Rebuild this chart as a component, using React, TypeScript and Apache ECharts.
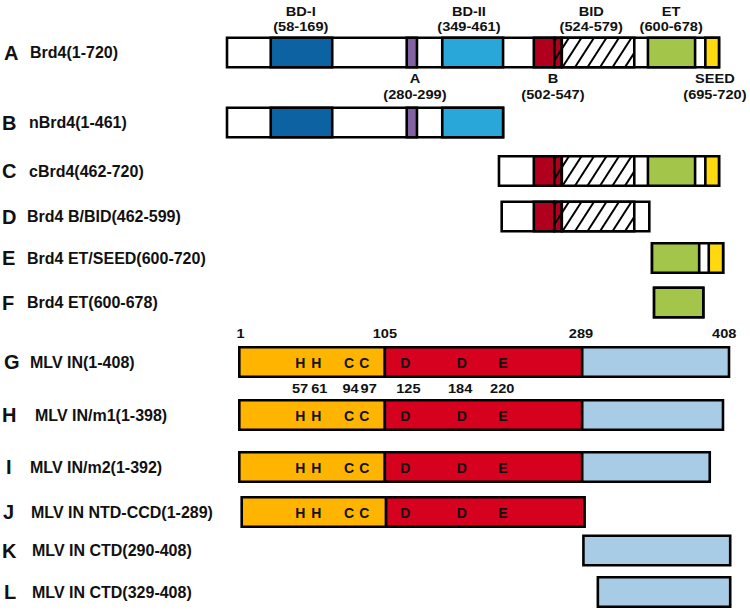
import React, { useEffect, useRef } from 'react';
import * as echarts from 'echarts';

// ---------- data ----------
const brd4Letters = ['A', 'B', 'C', 'D', 'E', 'F'];
const brd4Names = ['Brd4(1-720)', 'nBrd4(1-461)', 'cBrd4(462-720)', 'Brd4 B/BID(462-599)', 'Brd4 ET/SEED(600-720)', 'Brd4 ET(600-678)'];
const mlvLetters = ['G', 'H', 'I', 'J', 'K', 'L'];
const mlvNames = ['MLV IN(1-408)', 'MLV IN/m1(1-398)', 'MLV IN/m2(1-392)', 'MLV IN NTD-CCD(1-289)', 'MLV IN CTD(290-408)', 'MLV IN CTD(329-408)'];

// Brd4 constructs, drawn extents on the schematic residue scale: [row, start, end]
const brd4Constructs: [number, number, number][] = [
  [0, 0, 720], [1, 0, 404], [2, 398, 720], [3, 402, 618], [4, 622, 726], [5, 625, 697],
];
// Brd4 domains: [row, start, end, kind]
const brd4Domains: [number, number, number, string][] = [
  [0, 64, 154, 'BD-I'], [0, 263, 278, 'A'], [0, 315, 404, 'BD-II'], [0, 449, 479, 'B'], [0, 479, 490, 'B/BID'], [0, 490, 596, 'BID'], [0, 616, 685, 'ET'], [0, 700, 720, 'SEED'],
  [1, 64, 154, 'BD-I'], [1, 263, 278, 'A'], [1, 315, 404, 'BD-II'],
  [2, 449, 479, 'B'], [2, 479, 490, 'B/BID'], [2, 490, 596, 'BID'], [2, 616, 685, 'ET'], [2, 700, 720, 'SEED'],
  [3, 449, 479, 'B'], [3, 479, 490, 'B/BID'], [3, 490, 596, 'BID'],
  [4, 622, 691, 'ET'], [4, 705, 726, 'SEED'],
  [5, 625, 697, 'ET'],
];
// Brd4 annotations on row A: [name, range, position, side]
const brd4Notes: [string, string, number, 'top' | 'bottom'][] = [
  ['BD-I', '(58-169)', 108, 'top'], ['BD-II', '(349-461)', 354, 'top'], ['BID', '(524-579)', 533, 'top'], ['ET', '(600-678)', 650, 'top'],
  ['A', '(280-299)', 275, 'bottom'], ['B', '(502-547)', 477, 'bottom'], ['SEED', '(695-720)', 714, 'bottom'],
];

// MLV IN segments: [row, start, end, kind]
const mlvSegments: [number, number, number, string][] = [
  [0, 1, 122, 'NTD'], [0, 122, 286, 'CCD'], [0, 286, 408, 'CTD'],
  [1, 1, 122, 'NTD'], [1, 122, 286, 'CCD'], [1, 286, 403, 'CTD'],
  [2, 1, 122, 'NTD'], [2, 122, 286, 'CCD'], [2, 286, 392, 'CTD'],
  [3, 3, 123, 'NTD'], [3, 123, 288, 'CCD'],
  [4, 287, 409, 'CTD'],
  [5, 299, 409, 'CTD'],
];
// catalytic residues: [letter, residue number, letter position, number position]
const mlvResidues: [string, string, number, number][] = [
  ['H', '57', 51.7, 51.5], ['H', '61', 65, 67.5], ['C', '94', 92.3, 93.5], ['C', '97', 104.8, 108.5],
  ['D', '125', 139, 141.5], ['D', '184', 186, 184.5], ['E', '220', 220, 219.5],
];
const mlvResidueRows = [0, 1, 2, 3];
// boundary tick labels above G: [label, position]
const mlvBoundaries: [string, number][] = [['1', 2], ['105', 122], ['289', 285], ['408', 404]];

// ---------- layout & style ----------
const BRD4_Y = [52.5, 122.5, 171, 216.5, 258, 302.5];
const MLV_Y = [362, 415, 467, 512, 550.5, 592];
const LETTER_X = [4, 2, 2, 2, 2, 2, 4, 2, 6, 3, 2, 4];
const NAME_X = [30, 29, 29, 27, 27, 27, 30, 35, 30, 31, 32, 32];
const HALF = 14.75;
const FF = '"Liberation Sans", Arial, sans-serif';
const LETTER_FONT = `bold 20px ${FF}`;
const NAME_FONT = `bold 16px ${FF}`;
const SMALL_FONT = `bold 13.5px ${FF}`;
const INNER_FONT = `bold 14px ${FF}`;
const SMALL_SCALE_X = 1.08;
const TXT = '#111';
const FILLS: Record<string, string> = {
  white: '#ffffff',
  'BD-I': '#0d63a1', A: '#8262a3', 'BD-II': '#2aa7d9', B: '#b1001d', 'B/BID': '#b1001d', BID: '#ffffff', ET: '#a3c64a', SEED: '#ffd90f',
  NTD: '#ffb400', CCD: '#d6001f', CTD: '#a8cbe6',
};
const HATCHED: Record<string, boolean> = { 'B/BID': true, BID: true };

function hatchLines(x0: number, x1: number, yTop: number, yBot: number) {
  const D = 19;
  const S = 12.5;
  const out: any[] = [];
  for (let b = Math.floor((x0 - D) / S) * S; b < x1; b += S) {
    const tMin = Math.max(0, (x0 - b) / D);
    const tMax = Math.min(1, (x1 - b) / D);
    if (tMax - tMin > 0.03) {
      out.push({
        type: 'line',
        shape: { x1: b + D * tMin, y1: yBot - (yBot - yTop) * tMin, x2: b + D * tMax, y2: yBot - (yBot - yTop) * tMax },
        style: { stroke: '#000', lineWidth: 2 },
      });
    }
  }
  return out;
}

function segRenderer(segs: any[], rowsY: number[], kindOf: (s: any) => string) {
  return (params: any, api: any) => {
    const s = segs[params.dataIndex];
    const cy = rowsY[s[0]];
    const p0 = api.coord([s[1], cy]);
    const p1 = api.coord([s[2], cy]);
    const yTop = p0[1] - HALF;
    const yBot = p0[1] + HALF;
    const kind = kindOf(s);
    const shape = { x: p0[0], y: yTop, width: p1[0] - p0[0], height: 2 * HALF };
    const children: any[] = [{ type: 'rect', shape, style: { fill: FILLS[kind], stroke: 'none' } }];
    if (HATCHED[kind]) children.push(...hatchLines(p0[0], p1[0], yTop, yBot));
    children.push({ type: 'rect', shape, style: { fill: 'none', stroke: '#000', lineWidth: 2.6 } });
    return { type: 'group', children };
  };
}

function txt(text: string, x: number, y: number, font: string, scaleX = 1) {
  return {
    type: 'text', x, y, scaleX,
    style: { text, x: 0, y: 0, font, fill: TXT, textAlign: 'center', textVerticalAlign: 'middle' },
  };
}

export default function App() {
  const ref = useRef<HTMLDivElement>(null);
  useEffect(() => {
    if (!ref.current) return;
    const chart = echarts.init(ref.current, undefined, { renderer: 'svg' });

    const graphic: any[] = [];
    brd4Letters.forEach((l, i) => {
      graphic.push({ type: 'text', x: LETTER_X[i], y: BRD4_Y[i], style: { text: l, font: LETTER_FONT, fill: TXT, textVerticalAlign: 'middle' } });
      graphic.push({ type: 'text', x: NAME_X[i], y: BRD4_Y[i], style: { text: brd4Names[i], font: NAME_FONT, fill: TXT, textVerticalAlign: 'middle' } });
    });
    mlvLetters.forEach((l, i) => {
      graphic.push({ type: 'text', x: LETTER_X[6 + i], y: MLV_Y[i], style: { text: l, font: LETTER_FONT, fill: TXT, textVerticalAlign: 'middle' } });
      graphic.push({ type: 'text', x: NAME_X[6 + i], y: MLV_Y[i], style: { text: mlvNames[i], font: NAME_FONT, fill: TXT, textVerticalAlign: 'middle' } });
    });

    const option: any = {
      animation: false,
      backgroundColor: '#ffffff',
      grid: [
        { left: 227, top: 0, width: 492, height: 612 },
        { left: 239.3, top: 0, width: 489.7, height: 612 },
      ],
      xAxis: [
        { gridIndex: 0, type: 'value', min: 0, max: 720, show: false },
        { gridIndex: 1, type: 'value', min: 1, max: 408, show: false },
      ],
      yAxis: [
        { gridIndex: 0, type: 'value', min: 0, max: 612, inverse: true, show: false },
        { gridIndex: 1, type: 'value', min: 0, max: 612, inverse: true, show: false },
      ],
      graphic,
      series: [
        {
          type: 'custom', xAxisIndex: 0, yAxisIndex: 0, silent: true, clip: false, z: 2,
          data: brd4Constructs.map((c) => [c[1], c[2]]), encode: { x: [0, 1] },
          renderItem: segRenderer(brd4Constructs, BRD4_Y, () => 'white'),
        },
        {
          type: 'custom', xAxisIndex: 0, yAxisIndex: 0, silent: true, clip: false, z: 3,
          data: brd4Domains.map((d) => [d[1], d[2]]), encode: { x: [0, 1] },
          renderItem: segRenderer(brd4Domains, BRD4_Y, (s) => s[3]),
        },
        {
          type: 'custom', xAxisIndex: 0, yAxisIndex: 0, silent: true, clip: false, z: 4,
          data: brd4Notes.map((n) => [n[2]]), encode: { x: 0 },
          renderItem: (params: any, api: any) => {
            const n = brd4Notes[params.dataIndex];
            const p = api.coord([n[2], BRD4_Y[0]]);
            const top = p[1] - HALF - 1.25;
            const bot = p[1] + HALF + 1.25;
            const y1 = n[3] === 'top' ? top - 25.5 : bot + 9.5;
            const y2 = n[3] === 'top' ? top - 10 : bot + 26;
            return {
              type: 'group',
              children: [txt(n[0], p[0], y1, SMALL_FONT, SMALL_SCALE_X), txt(n[1], p[0], y2, SMALL_FONT, SMALL_SCALE_X)],
            };
          },
        },
        {
          type: 'custom', xAxisIndex: 1, yAxisIndex: 1, silent: true, clip: false, z: 3,
          data: mlvSegments.map((d) => [d[1], d[2]]), encode: { x: [0, 1] },
          renderItem: segRenderer(mlvSegments, MLV_Y, (s) => s[3]),
        },
        {
          type: 'custom', xAxisIndex: 1, yAxisIndex: 1, silent: true, clip: false, z: 4,
          data: mlvResidues.map((r) => [r[2], r[3]]), encode: { x: [0, 1] },
          renderItem: (params: any, api: any) => {
            const r = mlvResidues[params.dataIndex];
            const children: any[] = [];
            mlvResidueRows.forEach((ri) => {
              const p = api.coord([r[2], MLV_Y[ri]]);
              children.push(txt(r[0], p[0], p[1] + 0.5, INNER_FONT));
            });
            const p0 = api.coord([r[3], MLV_Y[0]]);
            children.push(txt(r[1], p0[0], p0[1] + HALF + 11, SMALL_FONT, SMALL_SCALE_X));
            return { type: 'group', children };
          },
        },
        {
          type: 'custom', xAxisIndex: 1, yAxisIndex: 1, silent: true, clip: false, z: 4,
          data: mlvBoundaries.map((b) => [b[1]]), encode: { x: 0 },
          renderItem: (params: any, api: any) => {
            const b = mlvBoundaries[params.dataIndex];
            const p = api.coord([b[1], MLV_Y[0]]);
            return txt(b[0], p[0], p[1] - HALF - 14, SMALL_FONT, SMALL_SCALE_X);
          },
        },
      ],
    };
    chart.setOption(option);
    return () => chart.dispose();
  }, []);
  return <div ref={ref} style={{ position: 'fixed', left: 0, top: 0, width: 750, height: 612, background: '#fff' }} />;
}
